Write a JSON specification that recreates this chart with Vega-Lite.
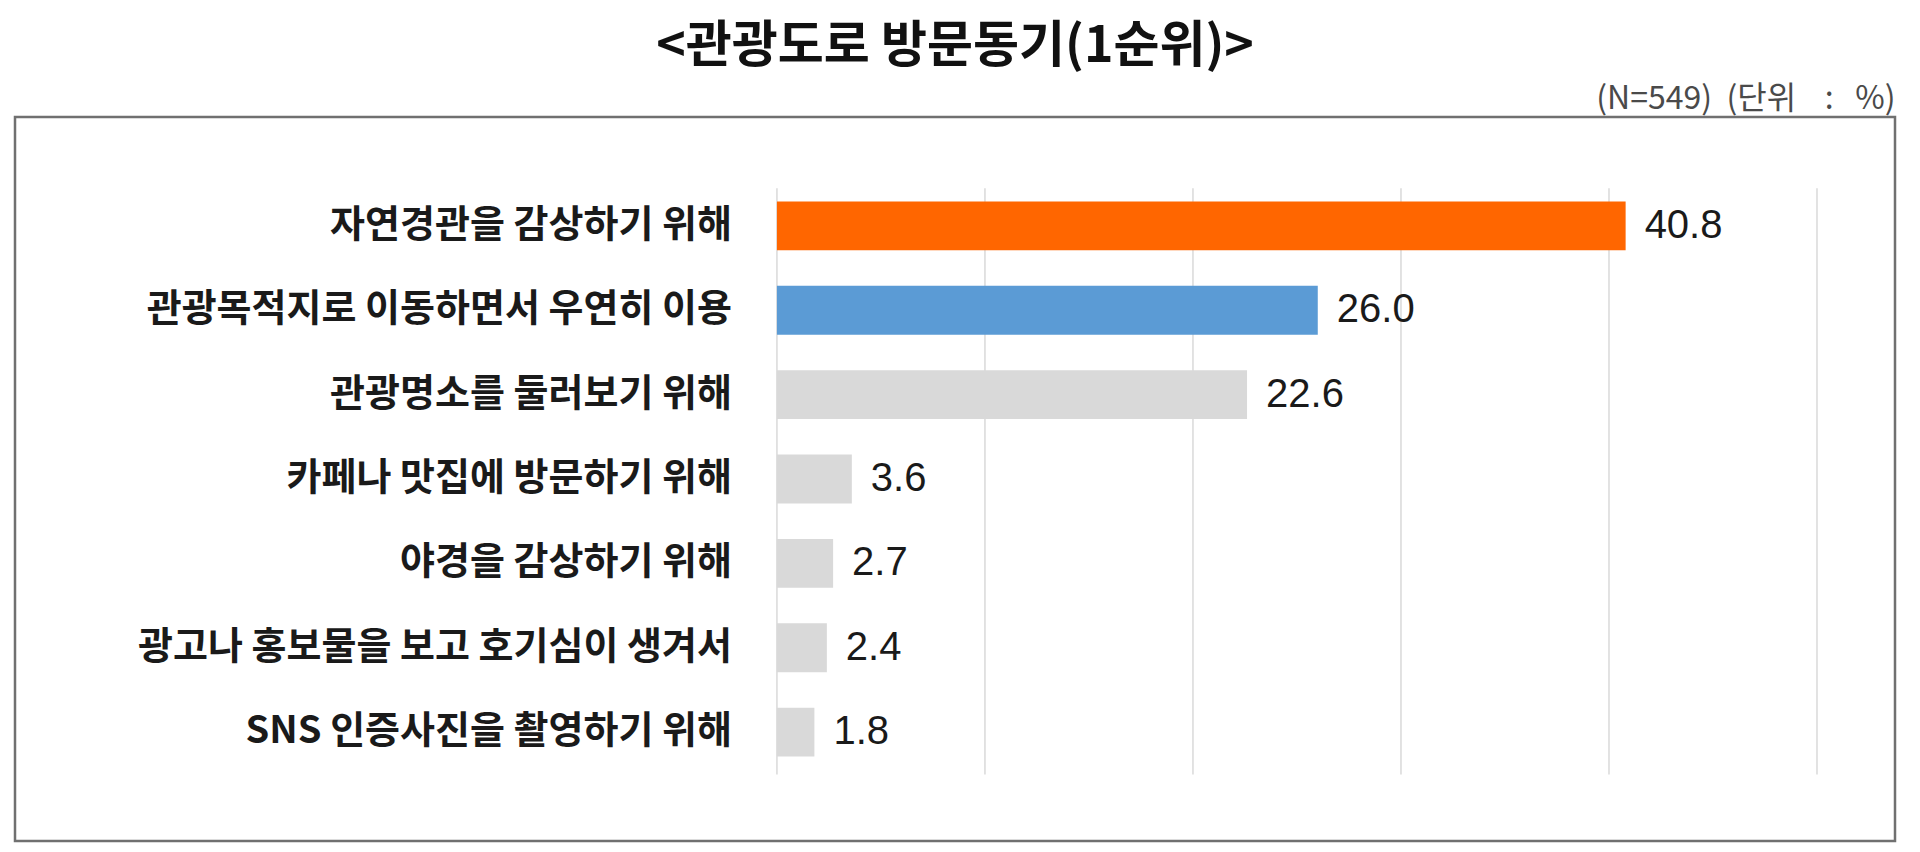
{
  "$schema": "https://vega.github.io/schema/vega-lite/v6.json",
  "width": 1880,
  "height": 724,
  "autosize": {"type": "none"},
  "padding": {"left": 15, "top": 117, "right": 25, "bottom": 11},
  "background": "white",
  "title": {
    "text": "<관광도로 방문동기(1순위)>",
    "font": "Noto Sans CJK KR",
    "fontSize": 50,
    "fontWeight": "bold",
    "color": "#111111",
    "anchor": "middle",
    "offset": 10
  },
  "config": {
    "view": {"stroke": "#707070", "strokeWidth": 2.5},
    "axisX": {
      "labels": false,
      "ticks": false,
      "domain": false,
      "grid": false,
      "titleFont": "Noto Sans CJK KR",
      "titleFontSize": 32,
      "titleFontWeight": "normal",
      "titleColor": "#4a4a4a",
      "titleAnchor": "end",
      "titleAlign": "right",
      "titlePadding": 2
    }
  },
  "datasets": {
    "main": [
      {"cat": "자연경관을 감상하기 위해", "value": 40.8},
      {"cat": "관광목적지로 이동하면서 우연히 이용", "value": 26.0},
      {"cat": "관광명소를 둘러보기 위해", "value": 22.6},
      {"cat": "카페나 맛집에 방문하기 위해", "value": 3.6},
      {"cat": "야경을 감상하기 위해", "value": 2.7},
      {"cat": "광고나 홍보물을 보고 호기심이 생겨서", "value": 2.4},
      {"cat": "SNS 인증사진을 촬영하기 위해", "value": 1.8}
    ],
    "grid": [{"g": 0}, {"g": 10}, {"g": 20}, {"g": 30}, {"g": 40}, {"g": 50}]
  },
  "layer": [
    {
      "data": {"name": "grid"},
      "mark": {"type": "rule", "color": "#d9d9d9", "strokeWidth": 1.5},
      "encoding": {
        "x": {"field": "g", "type": "quantitative", "scale": {"domain": [-36.63, 53.75], "nice": false, "zero": false}, "axis": {"orient": "top", "title": "(N=549)\u00a0\u00a0(단위\u00a0\u00a0\u00a0\u00a0:\u00a0\u00a0\u00a0%)"}},
        "y": {"datum": "자연경관을 감상하기 위해", "type": "nominal", "bandPosition": -0.27, "scale": {"type": "band", "paddingInner": 0.42, "paddingOuter": 1.07, "domain": ["자연경관을 감상하기 위해", "관광목적지로 이동하면서 우연히 이용", "관광명소를 둘러보기 위해", "카페나 맛집에 방문하기 위해", "야경을 감상하기 위해", "광고나 홍보물을 보고 호기심이 생겨서", "SNS 인증사진을 촬영하기 위해"]}, "axis": null},
        "y2": {"datum": "SNS 인증사진을 촬영하기 위해", "bandPosition": 1.363}
      }
    },
    {
      "data": {"name": "main"},
      "mark": {"type": "bar"},
      "encoding": {
        "x": {"field": "value", "type": "quantitative", "axis": {"orient": "top", "title": "(N=549)\u00a0\u00a0(단위\u00a0\u00a0\u00a0\u00a0:\u00a0\u00a0\u00a0%)"}},
        "x2": {"datum": 0},
        "y": {"field": "cat", "type": "nominal", "sort": null, "axis": null},
        "color": {
          "field": "cat",
          "type": "nominal",
          "legend": null,
          "scale": {
            "domain": ["자연경관을 감상하기 위해", "관광목적지로 이동하면서 우연히 이용", "관광명소를 둘러보기 위해", "카페나 맛집에 방문하기 위해", "야경을 감상하기 위해", "광고나 홍보물을 보고 호기심이 생겨서", "SNS 인증사진을 촬영하기 위해"],
            "range": ["#ff6600", "#5b9bd5", "#d9d9d9", "#d9d9d9", "#d9d9d9", "#d9d9d9", "#d9d9d9"]
          }
        }
      }
    },
    {
      "data": {"name": "main"},
      "mark": {"type": "text", "align": "right", "baseline": "middle", "dx": -45, "font": "Noto Sans CJK KR", "fontWeight": "bold", "fontSize": 38, "color": "#1a1a1a"},
      "encoding": {
        "x": {"datum": 0, "type": "quantitative", "axis": {"orient": "top", "title": "(N=549)\u00a0\u00a0(단위\u00a0\u00a0\u00a0\u00a0:\u00a0\u00a0\u00a0%)"}},
        "y": {"field": "cat", "type": "nominal", "sort": null, "axis": null},
        "text": {"field": "cat"}
      }
    },
    {
      "data": {"name": "main"},
      "mark": {"type": "text", "align": "left", "baseline": "middle", "dx": 19, "font": "Liberation Sans", "fontSize": 40, "color": "#1a1a1a"},
      "encoding": {
        "x": {"field": "value", "type": "quantitative", "axis": {"orient": "top", "title": "(N=549)\u00a0\u00a0(단위\u00a0\u00a0\u00a0\u00a0:\u00a0\u00a0\u00a0%)"}},
        "y": {"field": "cat", "type": "nominal", "sort": null, "axis": null},
        "text": {"field": "value", "format": ".1f"}
      }
    }
  ]
}
